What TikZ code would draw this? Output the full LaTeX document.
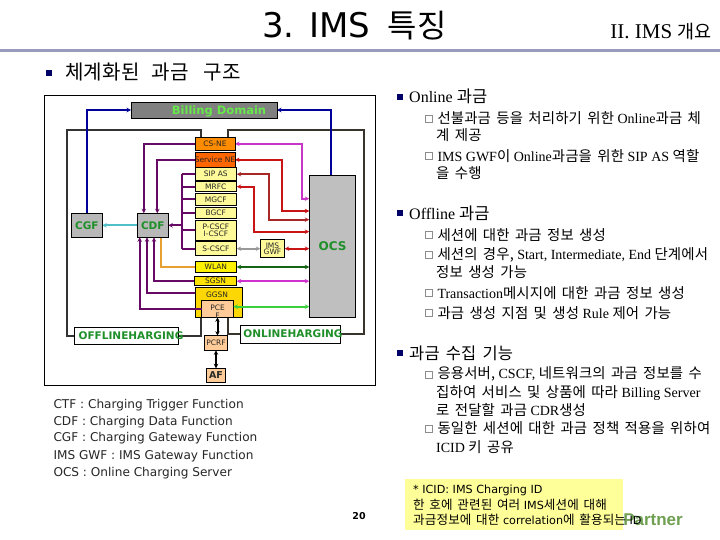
\documentclass[tikz,border=0pt]{standalone}
\usepackage{fontspec}
\setmainfont{Liberation Serif}
\newfontfamily\krfont[WordSpace=1.6,LetterSpace=1,Scale=1.03]{Noto Sans CJK KR}
\newfontfamily\tagfont{DejaVu Sans}
\newfontfamily\logofont{Liberation Sans}
\newcommand{\kr}[1]{{\krfont #1}}
\newcommand{\boxtext}[1]{\smash{\makebox[0pt]{\raisebox{-.36em}{#1}}}}
\usetikzlibrary{backgrounds,arrows.meta}
\definecolor{billgreen}{HTML}{66E84A}
\definecolor{tagreen}{HTML}{1F8F2A}
\definecolor{cdrpurple}{HTML}{660A66}
\definecolor{navybullet}{HTML}{000066}
\definecolor{headrule}{HTML}{9A9ABC}
\definecolor{notefill}{HTML}{FFFF99}
\definecolor{logogreen}{HTML}{6F9F50}
\definecolor{ocsred}{HTML}{C81414}
\definecolor{sipred}{HTML}{A82828}
\definecolor{nemagenta}{HTML}{C838C8}
\definecolor{sgsnmagenta}{HTML}{D030D0}
\definecolor{wlangreen}{HTML}{146414}
\definecolor{pcegreen}{HTML}{3CD03C}
\definecolor{cdrcyan}{HTML}{50C0C8}
\definecolor{wlanorange}{HTML}{E8A030}
\tikzset{
  >={Stealth[length=4.5pt,width=4.5pt]},
  cell/.style={draw=black,line width=.7pt,inner sep=0pt,outer sep=0pt,font=\tagfont\fontsize{7.5}{8}\selectfont,text=black!85},
  softcell/.style={cell,fill=#1},
  greentag/.style={font=\tagfont\bfseries\fontsize{10.5}{12}\selectfont,text=tagreen},
  billlink/.style={draw=cdrpurple,line width=2pt},
  chargelink/.style={line width=2pt},
  headtext/.style={anchor=west,inner sep=0pt,font=\fontsize{16}{18}\selectfont},
  subtext/.style={anchor=west,inner sep=0pt,font=\fontsize{14}{16}\selectfont},
  legendtext/.style={anchor=west,inner sep=0pt,font=\tagfont\fontsize{12.1}{14}\selectfont,text=black!85},
  notetext/.style={anchor=west,inner sep=0pt,font=\tagfont\fontsize{11.2}{13}\selectfont},
  headmark/.style={fill=navybullet,inner sep=0pt,minimum size=6pt},
  submark/.style={draw=black!45,fill=white,line width=.5pt,inner sep=0pt,minimum size=7pt},
}
\begin{document}
\begin{tikzpicture}[x=1pt,y=-1pt]
\useasboundingbox (0,0) rectangle (720,540);
\node[inner sep=0pt,anchor=west,font=\tagfont\fontsize{34}{36}\selectfont] (title) at (262,26) {3. IMS\hspace{18pt}\kr{\fontsize{31}{36}\selectfont 특징}};
\node[inner sep=0pt,anchor=east,font=\fontsize{21}{22}\selectfont] (chapter) at (712,32) {II. IMS \kr{\fontsize{18}{22}\selectfont 개요}};
\coordinate (ruleleft) at (0,50.7);
\coordinate (ruleright) at (720,50.7);
\draw[line width=3pt,color=headrule] (ruleleft)--(ruleright);
\node[headmark] (m0) at (48.5,73) {};
\node[headtext,font=\fontsize{19.5}{20}\selectfont] (h0) at (65,72) {\kr{체계화된\hspace{12pt}과금\hspace{15pt}구조}};
\node[draw=black,line width=.8pt,minimum width=330.7pt,minimum height=290pt,inner sep=0pt] (domain) at (209.65,240) {};
\node[softcell=black!50,minimum width=146pt,minimum height=16pt,font=\tagfont\bfseries\fontsize{11.5}{13}\selectfont,text=billgreen] (billing) at (204,110) {\hspace{30pt}\boxtext{Billing Domain}};
\node[softcell=orange!90!yellow,minimum width=40pt,minimum height=13.6pt] (csne) at (215,143.8) {\boxtext{CS-NE}};
\node[softcell=orange!80!red,minimum width=40pt,minimum height=14.3pt] (service) at (215,159.85) {\boxtext{Service NE}};
\node[softcell=yellow!40,minimum width=41.7pt,minimum height=13pt] (sipas) at (215.85,174.2) {\boxtext{SIP AS}};
\node[softcell=yellow!40,minimum width=41.7pt,minimum height=10pt] (mrfc) at (215.85,186.7) {\boxtext{MRFC}};
\node[softcell=yellow!40,minimum width=41.7pt,minimum height=12.7pt] (mgcf) at (215.85,199.35) {\boxtext{MGCF}};
\node[softcell=yellow!40,minimum width=41.7pt,minimum height=10.6pt] (bgcf) at (215.85,213) {\boxtext{BGCF}};
\node[softcell=yellow!40,minimum width=41.7pt,minimum height=20.7pt,align=center] (pcscf) at (215.85,230.35) {P-CSCF\\[-1.5pt]I-CSCF};
\node[softcell=yellow!40,minimum width=41.7pt,minimum height=14pt] (scscf) at (215.85,248.7) {\boxtext{S-CSCF}};
\node[softcell=yellow,minimum width=41.7pt,minimum height=10.6pt] (wlan) at (215.85,267) {\boxtext{WLAN}};
\node[softcell=yellow!85!orange,minimum width=42.4pt,minimum height=9pt] (sgsn) at (215.5,281.2) {\boxtext{SGSN}};
\node[softcell=yellow!75!orange,minimum width=47.3pt,minimum height=30pt,anchor=center] (ggsn) at (218.65,302.3) {};
\node[cell,draw=none] (ggsntag) at (217,295) {\boxtext{GGSN}};
\node[softcell=orange!40,minimum width=31.6pt,minimum height=17.3pt] (pcef) at (217.5,308.65) {\smash{\makebox[0pt]{\raisebox{-10pt}{\shortstack{PCE\\F}}}}};
\node[softcell=orange!40,minimum width=23.4pt,minimum height=14.6pt] (pcrf) at (216,343) {\boxtext{PCRF}};
\node[softcell=orange!40,minimum width=18.6pt,minimum height=14.4pt,font=\tagfont\bfseries\fontsize{9.5}{11}\selectfont] (af) at (216,375.5) {\boxtext{AF}};
\node[softcell=yellow!40,minimum width=24.4pt,minimum height=18pt,align=center] (imsgwf) at (272.5,248.7) {IMS\\[-1.5pt]GWF};
\node[softcell=black!25,minimum width=46.4pt,minimum height=142.3pt,greentag,font=\tagfont\bfseries\fontsize{12}{14}\selectfont] (ocs) at (332.5,246.15) {OCS};
\node[softcell=black!28,minimum width=31pt,minimum height=24pt,greentag] (cgf) at (86.8,225.3) {CGF};
\node[softcell=black!28,minimum width=31pt,minimum height=24pt,greentag] (cdf) at (152.8,225.3) {CDF};
\node[softcell=white,minimum width=104.4pt,minimum height=17pt,greentag] (offline) at (126.5,335.5) {\hspace{9pt}\boxtext{OFFLINEHARGING}};
\node[softcell=white,minimum width=100pt,minimum height=18pt,greentag] (online) at (290,334) {\hspace{6pt}\boxtext{ONLINEHARGING}};
\coordinate (bus) at (182,225.3);
\coordinate (leftcorner) at (67,130);
\coordinate (rightcorner) at (364,130);
\begin{scope}[on background layer]
\draw[chargelink,draw=black!80] (offline.west) -| (leftcorner) -| ([xshift=-14pt]csne.north);
\draw[chargelink,draw=black!80] (offline.east) -| ([xshift=-17.65pt]ggsn.south);
\draw[chargelink,draw=black!80!olive] (online.east) -| (rightcorner) -| ([xshift=12.7pt]csne.north);
\draw[chargelink,draw=black!80!olive] (online.west) -| ([xshift=9.05pt]ggsn.south);
\draw[chargelink,draw=blue!60!black,->] (cgf.north) |- (billing.west);
\draw[chargelink,draw=blue!60!black,->] ([xshift=-1.5pt]ocs.north) |- (billing.east);
\draw[billlink,->] (csne.west) -| ([xshift=-9pt]cdf.north);
\draw[billlink,->] (service.west) -| ([xshift=4.5pt]cdf.north);
\draw[billlink] (sipas.west) -- (sipas.west -| bus);
\draw[billlink] (mrfc.west) -- (mrfc.west -| bus);
\draw[billlink] (mgcf.west) -- (mgcf.west -| bus);
\draw[billlink] (bgcf.west) -- (bgcf.west -| bus);
\draw[billlink] (pcscf.west) -- (pcscf.west -| bus);
\draw[billlink] (scscf.west) -- (scscf.west -| bus);
\draw[billlink] (sipas.west -| bus) -- (scscf.west -| bus);
\draw[billlink,->] (bus) -- (cdf.east);
\draw[chargelink,draw=cdrcyan,->] (cdf.west) -- (cgf.east);
\draw[chargelink,draw=wlanorange] (wlan.west) -| ([xshift=8.5pt]cdf.south);
\draw[billlink,->] (sgsn.west) -| ([xshift=1.2pt]cdf.south);
\draw[billlink,->] (ggsn.west |- 0,292.7) -| ([xshift=-5.8pt]cdf.south);
\draw[chargelink,draw=nemagenta,<->] (csne.east) -- ++(67,0) |- ([yshift=-23.7pt]ocs.north west);
\draw[chargelink,draw=ocsred,<->] (service.east) -- ++(46.7,0) |- ([yshift=-36pt]ocs.north west);
\draw[chargelink,draw=sipred,<->] (sipas.east) -- ++(32.6,0) |- ([yshift=-44.7pt]ocs.north west);
\draw[chargelink,draw=ocsred,<->] (mrfc.east) -- ++(17.6,0) |- ([yshift=-56.7pt]ocs.north west);
\draw[chargelink,draw=black!40,<->] (scscf.east) -- (imsgwf.west);
\draw[chargelink,draw=ocsred,<->] (imsgwf.east) -- (imsgwf.east -| ocs.west);
\draw[chargelink,draw=wlangreen,<->] (wlan.east) -- (wlan.east -| ocs.west);
\draw[chargelink,draw=sgsnmagenta,<->] (sgsn.east) -- (sgsn.east -| ocs.west);
\end{scope}
\draw[billlink,->] (pcef.west) -| ([xshift=-13.1pt]cdf.south);
\draw[chargelink,draw=pcegreen,<->] ([yshift=2pt]pcef.east) -- ([yshift=2pt]pcef.east -| ocs.west);
\draw[chargelink,draw=black,<->] (pcef.south) -- (pcef.south |- pcrf.north);
\draw[chargelink,draw=black,<->] (pcrf.south) -- (af.north);
\node[legendtext] (l1) at (53.3,405) {CTF : Charging Trigger Function};
\node[legendtext] (l2) at (53.3,422) {CDF : Charging Data Function};
\node[legendtext] (l3) at (53.3,438.5) {CGF : Charging Gateway Function};
\node[legendtext] (l4) at (53.3,456.5) {IMS GWF : IMS Gateway Function};
\node[legendtext] (l5) at (53.3,473.5) {OCS : Online Charging Server};
\node[headmark] (m1) at (399.5,96.7) {};
\node[headtext] (h1) at (409,96.7) {Online \kr{과금}};
\node[submark] (k1) at (429,118.3) {};
\node[subtext] (s1) at (437.3,118.3) {\kr{선불과금 등을 처리하기 위한} Online\kr{과금 체}};
\node[subtext] (s2) at (436,135) {\kr{계 제공}};
\node[submark] (k2) at (429,156) {};
\node[subtext] (s3) at (437.3,156) {IMS GWF\kr{이} Online\kr{과금을 위한} SIP AS \kr{역할}};
\node[subtext] (s4) at (436,172.7) {\kr{을 수행}};
\node[headmark] (m2) at (399.5,213.3) {};
\node[headtext] (h2) at (409,213.3) {Offline \kr{과금}};
\node[submark] (k3) at (429,235) {};
\node[subtext] (s5) at (437.3,235) {\kr{세션에 대한 과금 정보 생성}};
\node[submark] (k4) at (429,255) {};
\node[subtext] (s6) at (437.3,255) {\kr{세션의 경우,} Start, Intermediate, End \kr{단계에서}};
\node[subtext] (s7) at (436,271.7) {\kr{정보 생성 가능}};
\node[submark] (k5) at (429,292.7) {};
\node[subtext] (s8) at (437.3,292.7) {Transaction\kr{메시지에 대한 과금 정보 생성}};
\node[submark] (k6) at (429,312.7) {};
\node[subtext] (s9) at (437.3,312.7) {\kr{과금 생성 지점 및 생성} Rule \kr{제어 가능}};
\node[headmark] (m3) at (399.5,353.3) {};
\node[headtext] (h3) at (409,353.3) {\kr{과금 수집 기능}};
\node[submark] (k7) at (429,374.3) {};
\node[subtext] (s10) at (437.3,374.3) {\kr{응용서버,} CSCF, \kr{네트워크의 과금 정보를 수}};
\node[subtext] (s11) at (436,393.3) {\kr{집하여 서비스 및 상품에 따라} Billing Server};
\node[subtext] (s12) at (436,410) {\kr{로 전달할 과금} CDR\kr{생성}};
\node[submark] (k8) at (429,428.3) {};
\node[subtext] (s13) at (437.3,428.3) {\kr{동일한 세션에 대한 과금 정책 적용을 위하여}};
\node[subtext] (s14) at (436,446.7) {ICID \kr{키 공유}};
\node[inner sep=0pt,anchor=east,font=\logofont\bfseries\fontsize{17}{20}\selectfont,text=logogreen] (logo) at (683,520) {Partner};
\node[fill=notefill,inner sep=0pt,minimum width=218.3pt,minimum height=50.7pt] (notebox) at (514.15,504.65) {};
\node[notetext] (n1) at (413,490.7) {* ICID: IMS Charging ID};
\node[notetext] (n2) at (413,505) {\kr{\fontsize{12.2}{14}\selectfont 한 호에 관련된 여러} IMS\kr{\fontsize{12.2}{14}\selectfont 세션에 대해}};
\node[notetext] (n3) at (413,520) {\kr{\fontsize{12.2}{14}\selectfont 과금정보에 대한} correlation\kr{\fontsize{12.2}{14}\selectfont 에 활용되는} ID};
\node[inner sep=0pt,font=\tagfont\bfseries\fontsize{9.5}{11}\selectfont] (pageno) at (359,516) {20};
\end{tikzpicture}
\end{document}
